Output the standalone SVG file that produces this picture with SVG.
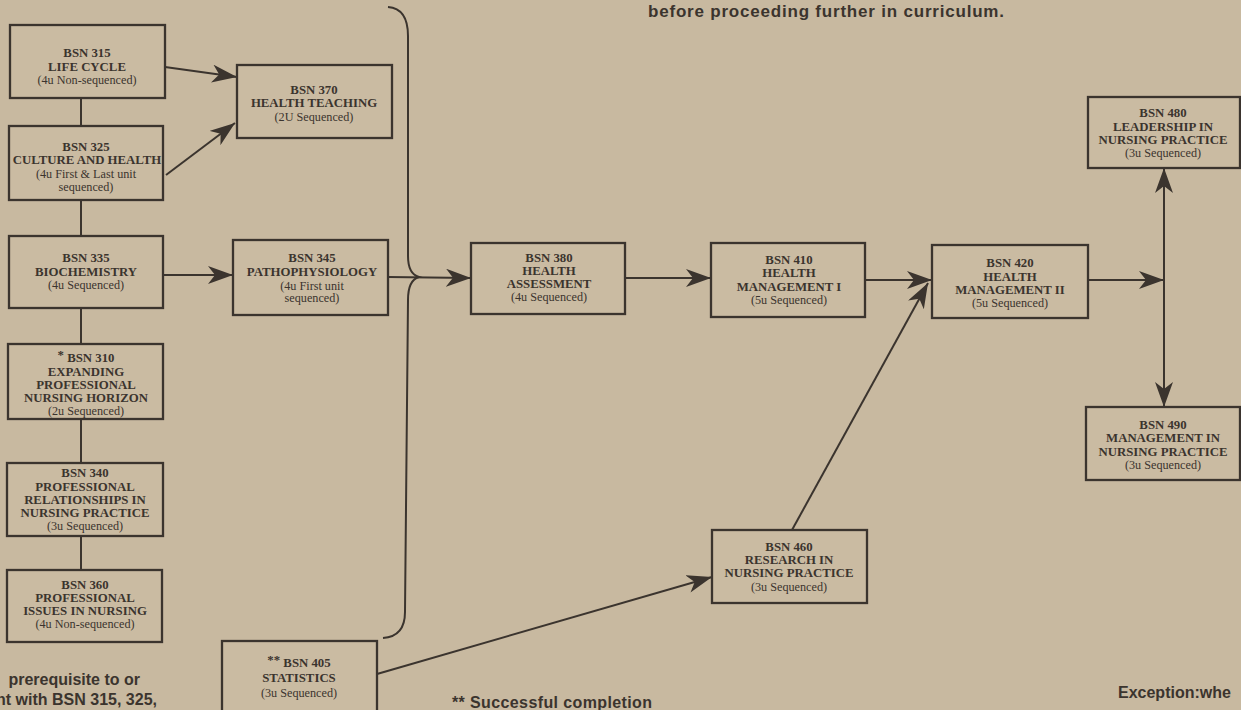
<svg xmlns="http://www.w3.org/2000/svg" width="1241" height="710" viewBox="0 0 1241 710">
<defs>
<style>
.bg{fill:#c8b9a0}
.box{fill:#cabba2;stroke:#3b342e;stroke-width:2.3}
.t{font-family:"Liberation Serif","Times New Roman",serif;font-size:12.8px;font-weight:bold;fill:#3b342e;text-anchor:middle}
.s{font-family:"Liberation Serif","Times New Roman",serif;font-size:12.2px;fill:#3b342e;text-anchor:middle}
.note{font-family:"Liberation Sans",Arial,sans-serif;font-size:16px;font-weight:bold;fill:#3b342e}
.ln{fill:none;stroke:#3b342e;stroke-width:2}
.ar{fill:none;stroke:#3b342e;stroke-width:2;marker-end:url(#ah)}
</style>
<marker id="ah" markerUnits="userSpaceOnUse" markerWidth="26" markerHeight="18" refX="25" refY="9" orient="auto">
<path d="M0,0 L25,9 L0,18 L7,9 z" fill="#3b342e"/>
</marker>
</defs>
<rect class="bg" x="0" y="0" width="1241" height="710"/>

<g id="connectors">
<path class="ln" d="M81,98 V126 M81,200 V236 M81,308 V344 M81,419 V463 M81,536 V570"/>
<path class="ar" d="M165,67 L237,77"/>
<path class="ar" d="M166,175 L235,123"/>
<path class="ar" d="M163,275 L233,275"/>
<path class="ln" d="M388,7 C402,8 408,18 408,36 L408,256 C408,268 412,275 419,277 C412,279 408,287 408,300 L405,612 C405,628 398,637 383,638"/>
<path class="ar" d="M388,277 L471,278"/>
<path class="ar" d="M625,278 L711,278"/>
<path class="ar" d="M865,280 L932,280"/>
<path class="ar" d="M792,530 L928,283"/>
<path class="ar" d="M377,674 L712,577"/>
<path class="ln" d="M1088,280 L1140,280"/>
<path class="ar" d="M1120,280 L1164,280"/>
<path class="ar" d="M1164,300 L1164,168"/>
<path class="ar" d="M1164,260 L1164,407"/>
</g>

<g id="bsn315"><rect class="box" x="10" y="25" width="155" height="73"/>
<text class="t" x="87" y="57">BSN 315</text><text class="t" x="87" y="71">LIFE CYCLE</text><text class="s" x="87" y="84">(4u Non-sequenced)</text></g>

<g id="bsn325"><rect class="box" x="9" y="126" width="154" height="74"/>
<text class="t" x="86" y="151">BSN 325</text><text class="t" x="87" y="164">CULTURE AND HEALTH</text><text class="s" x="86" y="178">(4u First &amp; Last unit</text><text class="s" x="86" y="191">sequenced)</text></g>

<g id="bsn335"><rect class="box" x="9" y="236" width="154" height="72"/>
<text class="t" x="86" y="262">BSN 335</text><text class="t" x="86" y="276">BIOCHEMISTRY</text><text class="s" x="86" y="289">(4u Sequenced)</text></g>

<g id="bsn310"><rect class="box" x="8" y="344" width="155" height="75"/>
<text class="t" x="86" y="362"><tspan dy="-3">*</tspan><tspan dy="3"> BSN 310</tspan></text><text class="t" x="86" y="376">EXPANDING</text><text class="t" x="86" y="389">PROFESSIONAL</text><text class="t" x="86" y="402">NURSING HORIZON</text><text class="s" x="86" y="415">(2u Sequenced)</text></g>

<g id="bsn340"><rect class="box" x="7" y="463" width="156" height="73"/>
<text class="t" x="85" y="477">BSN 340</text><text class="t" x="85" y="491">PROFESSIONAL</text><text class="t" x="85" y="504">RELATIONSHIPS IN</text><text class="t" x="85" y="517">NURSING PRACTICE</text><text class="s" x="85" y="530">(3u Sequenced)</text></g>

<g id="bsn360"><rect class="box" x="7" y="570" width="155" height="72"/>
<text class="t" x="85" y="589">BSN 360</text><text class="t" x="85" y="602">PROFESSIONAL</text><text class="t" x="85" y="615">ISSUES IN NURSING</text><text class="s" x="85" y="628">(4u Non-sequenced)</text></g>

<g id="bsn370"><rect class="box" x="237" y="65" width="155" height="73"/>
<text class="t" x="314" y="94">BSN 370</text><text class="t" x="314" y="107">HEALTH TEACHING</text><text class="s" x="314" y="121">(2U Sequenced)</text></g>

<g id="bsn345"><rect class="box" x="233" y="240" width="155" height="75"/>
<text class="t" x="312" y="262">BSN 345</text><text class="t" x="312" y="276">PATHOPHYSIOLOGY</text><text class="s" x="312" y="290">(4u First unit</text><text class="s" x="312" y="302">sequenced)</text></g>

<g id="bsn405"><rect class="box" x="222" y="641" width="155" height="80"/>
<text class="t" x="299" y="667"><tspan dy="-3">**</tspan><tspan dy="3"> BSN 405</tspan></text><text class="t" x="299" y="682">STATISTICS</text><text class="s" x="299" y="697">(3u Sequenced)</text></g>

<g id="bsn380"><rect class="box" x="471" y="243" width="154" height="71"/>
<text class="t" x="549" y="262">BSN 380</text><text class="t" x="549" y="275">HEALTH</text><text class="t" x="549" y="288">ASSESSMENT</text><text class="s" x="549" y="301">(4u Sequenced)</text></g>

<g id="bsn410"><rect class="box" x="711" y="243" width="154" height="74"/>
<text class="t" x="789" y="264">BSN 410</text><text class="t" x="789" y="277">HEALTH</text><text class="t" x="789" y="291">MANAGEMENT I</text><text class="s" x="789" y="304">(5u Sequenced)</text></g>

<g id="bsn420"><rect class="box" x="932" y="245" width="156" height="73"/>
<text class="t" x="1010" y="267">BSN 420</text><text class="t" x="1010" y="281">HEALTH</text><text class="t" x="1010" y="294">MANAGEMENT II</text><text class="s" x="1010" y="307">(5u Sequenced)</text></g>

<g id="bsn460"><rect class="box" x="712" y="530" width="155" height="73"/>
<text class="t" x="789" y="551">BSN 460</text><text class="t" x="789" y="564">RESEARCH IN</text><text class="t" x="789" y="577">NURSING PRACTICE</text><text class="s" x="789" y="591">(3u Sequenced)</text></g>

<g id="bsn480"><rect class="box" x="1088" y="97" width="152" height="71"/>
<text class="t" x="1163" y="117">BSN 480</text><text class="t" x="1163" y="131">LEADERSHIP IN</text><text class="t" x="1163" y="144">NURSING PRACTICE</text><text class="s" x="1163" y="157">(3u Sequenced)</text></g>

<g id="bsn490"><rect class="box" x="1086" y="407" width="154" height="73"/>
<text class="t" x="1163" y="429">BSN 490</text><text class="t" x="1163" y="442">MANAGEMENT IN</text><text class="t" x="1163" y="456">NURSING PRACTICE</text><text class="s" x="1163" y="469">(3u Sequenced)</text></g>

<g id="notes">
<text class="note" x="648" y="17" style="font-size:17px" textLength="356" lengthAdjust="spacing">before proceeding further in curriculum.</text>
<text class="note" x="140" y="685" text-anchor="end">prerequisite to or</text>
<text class="note" x="157" y="705" text-anchor="end">nt with BSN 315, 325,</text>
<text class="note" x="452" y="708" textLength="200" lengthAdjust="spacing">** Successful completion</text>
<text class="note" x="1118" y="698">Exception:whe</text>
</g>
</svg>
